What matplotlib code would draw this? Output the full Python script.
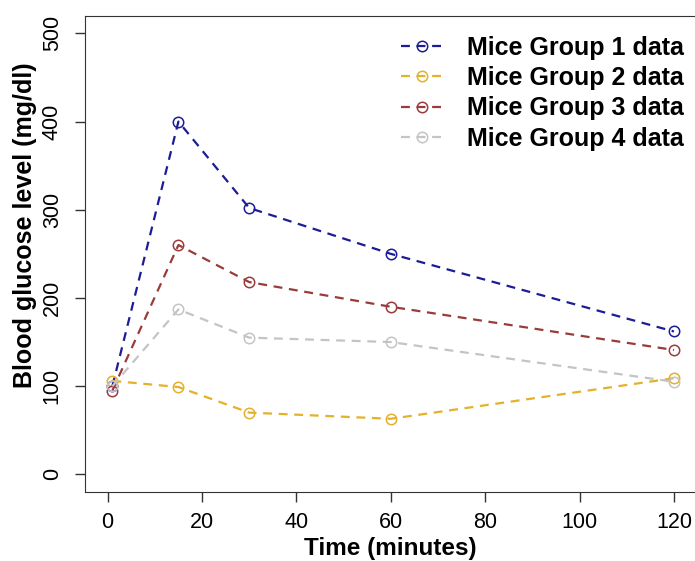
import matplotlib.pyplot as plt

plt.rcParams['font.family'] = ['Liberation Sans', 'DejaVu Sans']

time_min = [1, 15, 30, 60, 120]
group1 = [100, 400, 302, 250, 162]
group2 = [106, 99, 70, 63, 109]
group3 = [95, 260, 218, 190, 141]
group4 = [100, 187, 155, 150, 105]
labels = ['Mice Group 1 data', 'Mice Group 2 data', 'Mice Group 3 data', 'Mice Group 4 data']
colors = ['#1c1c96', '#e3b12a', '#9a3b3b', '#c4c4c4']

fig = plt.figure(figsize=(6.95, 5.61), dpi=100)
ax = fig.add_axes([0.1223, 0.123, 0.88, 0.849])

for y, lab, c in zip([group1, group2, group3, group4], labels, colors):
    ax.plot(time_min, y, linestyle=(0, (4, 3)), lw=1.6, color=c, marker='o',
            ms=7.5, mfc='none', mec=c, mew=1.1, label=lab)

ax.set_xlim(-4.8, 124.8)
ax.set_ylim(-20, 520)
ax.set_xticks([0, 20, 40, 60, 80, 100, 120])
ax.set_yticks([0, 100, 200, 300, 400, 500])
for lbl in ax.get_yticklabels():
    lbl.set_rotation(90)
    lbl.set_va('center')
ax.tick_params(labelsize=15.5, length=7, width=1, color='#333333')
ax.tick_params(axis='x', pad=7.5)
ax.tick_params(axis='y', pad=9)
for s in ax.spines.values():
    s.set_color('#333333')

ax.set_xlabel('Time (minutes)', fontsize=17.5, fontweight='bold', labelpad=3)
ax.set_ylabel('Blood glucose level (mg/dl)', fontsize=18, fontweight='bold')
ax.yaxis.set_label_coords(-0.079, 0.56)

leg = ax.legend(loc='upper left', bbox_to_anchor=(0.577, 0.936),
                bbox_transform=fig.transFigure, frameon=False,
                prop={'size': 18, 'weight': 'bold'}, handlelength=1.65,
                handletextpad=1.0, labelspacing=0.25, borderpad=0, borderaxespad=0)

fig.savefig('out.png', dpi=100)
